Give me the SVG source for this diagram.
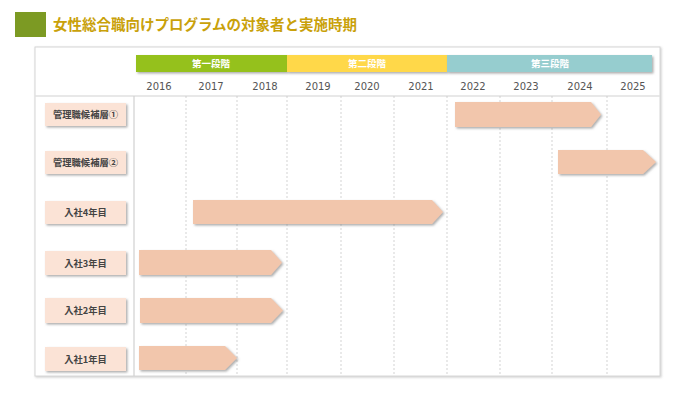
<svg xmlns="http://www.w3.org/2000/svg" width="699" height="394" viewBox="0 0 699 394">
<defs>
<filter id="sh" x="-10%" y="-20%" width="130%" height="160%">
<feDropShadow dx="1.5" dy="1.5" stdDeviation="0.8" flood-color="#777" flood-opacity="0.6"/>
</filter>
<filter id="psh" x="-5%" y="-5%" width="110%" height="110%">
<feDropShadow dx="1" dy="1" stdDeviation="1" flood-color="#999" flood-opacity="0.5"/>
</filter>
<style>
.cjk{font-family:"Noto Sans CJK JP","Noto Sans",sans-serif}
.yr{font-family:"DejaVu Sans",Verdana,sans-serif;font-size:10px;fill:#555;text-anchor:middle}
.ph{font-size:9.5px;font-weight:bold;fill:#fff;text-anchor:middle}
.lb{font-size:9.3px;font-weight:bold;fill:#444;text-anchor:middle}
.lbox{fill:#FBE3D6;filter:url(#sh)}
.bar{fill:#F2C6AC;filter:url(#sh)}
.dash{stroke:#c8c8c8;stroke-width:0.8;stroke-dasharray:2,2}
</style>
</defs>
<rect width="699" height="394" fill="#fff"/>
<g id="title">
<rect x="15" y="12" width="31" height="25" fill="#7C9A23"/>
<text x="53" y="30" class="cjk" font-size="14.5" font-weight="bold" fill="#C9A10A">女性総合職向けプログラムの対象者と実施時期</text>
</g>
<g id="panel">
<rect x="35" y="47" width="625" height="329" fill="#fff" stroke="#d6d6d6" stroke-width="1" filter="url(#psh)"/>
<line x1="35" y1="96" x2="660" y2="96" stroke="#e0e0e0" stroke-width="1.5"/>
<line x1="134" y1="96" x2="134" y2="376" stroke="#d0d0d0" stroke-width="1.2"/>
</g>
<g id="grid">
<line class="dash" x1="186" y1="96" x2="186" y2="376"/>
<line class="dash" x1="237" y1="96" x2="237" y2="376"/>
<line class="dash" x1="287" y1="96" x2="287" y2="376"/>
<line class="dash" x1="341" y1="96" x2="341" y2="376"/>
<line class="dash" x1="394" y1="96" x2="394" y2="376"/>
<line class="dash" x1="447" y1="96" x2="447" y2="376"/>
<line class="dash" x1="500" y1="96" x2="500" y2="376"/>
<line class="dash" x1="552" y1="96" x2="552" y2="376"/>
<line class="dash" x1="607" y1="96" x2="607" y2="376"/>
</g>
<g id="phase1">
<rect x="136" y="55" width="151" height="17" fill="#95C11F" filter="url(#sh)"/>
<text x="211" y="67" class="cjk ph">第一段階</text>
</g>
<g id="phase2">
<rect x="287" y="55" width="160" height="17" fill="#FFD84A" filter="url(#sh)"/>
<text x="367" y="67" class="cjk ph">第二段階</text>
</g>
<g id="phase3">
<rect x="447" y="55" width="205" height="17" fill="#96CDCF" filter="url(#sh)"/>
<text x="550" y="67" class="cjk ph">第三段階</text>
</g>
<g id="years">
<text class="yr" x="159" y="90">2016</text>
<text class="yr" x="211" y="90">2017</text>
<text class="yr" x="265" y="90">2018</text>
<text class="yr" x="318" y="90">2019</text>
<text class="yr" x="367" y="90">2020</text>
<text class="yr" x="421" y="90">2021</text>
<text class="yr" x="473" y="90">2022</text>
<text class="yr" x="526" y="90">2023</text>
<text class="yr" x="580" y="90">2024</text>
<text class="yr" x="633" y="90">2025</text>
</g>
<g id="row1">
<rect class="lbox" x="45" y="103" width="81" height="23"/>
<text x="85.5" y="118" class="cjk lb">管理職候補層①</text>
<polygon class="bar" points="455,102 591,102 601,114.5 591,127 455,127"/>
</g>
<g id="row2">
<rect class="lbox" x="45" y="151" width="81" height="23"/>
<text x="85.5" y="166" class="cjk lb">管理職候補層②</text>
<polygon class="bar" points="558,150 643,150 656,162 643,174 558,174"/>
</g>
<g id="row3">
<rect class="lbox" x="45" y="201" width="81" height="23"/>
<text x="85.5" y="216" class="cjk lb">入社4年目</text>
<polygon class="bar" points="193,200 432,200 443,212 432,224 193,224"/>
</g>
<g id="row4">
<rect class="lbox" x="45" y="251" width="81" height="24"/>
<text x="85.5" y="266.5" class="cjk lb">入社3年目</text>
<polygon class="bar" points="139,250 271,250 282,262.5 271,275 139,275"/>
</g>
<g id="row5">
<rect class="lbox" x="45" y="298" width="81" height="25"/>
<text x="85.5" y="314" class="cjk lb">入社2年目</text>
<polygon class="bar" points="140,298 271,298 283,310.5 271,323 140,323"/>
</g>
<g id="row6">
<rect class="lbox" x="45" y="347" width="81" height="24"/>
<text x="85.5" y="362.5" class="cjk lb">入社1年目</text>
<polygon class="bar" points="139,346 225,346 237,358 225,370 139,370"/>
</g>
</svg>
